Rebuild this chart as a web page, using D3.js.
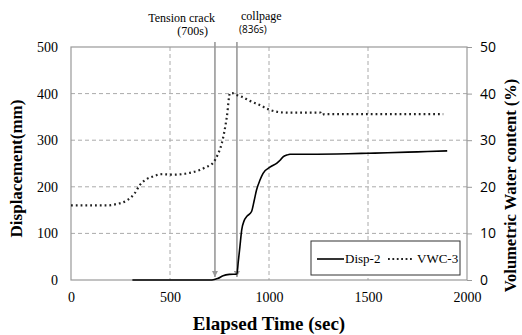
<!DOCTYPE html>
<html>
<head>
<meta charset="utf-8">
<script src="https://cdn.jsdelivr.net/npm/d3@7"></script>
<style>
  body { margin: 0; background: #fff; }
  svg { display: block; }
</style>
</head>
<body>
<div id="chart"></div>
<script>
// series (time in sec)
const dispTime = [310, 500, 712, 740, 768, 800, 838, 845, 853, 862, 875, 887, 912, 925, 937, 955, 970, 1005, 1040, 1056, 1071, 1090, 1106, 1200, 1400, 1500, 1600, 1750, 1900];
const dispVal  = [0, 0, 0, 3, 9, 12, 13, 40, 71, 107, 128, 136, 147, 170, 193, 215, 229, 242, 251, 257, 264, 268, 270, 270, 271, 272, 273, 275, 277];

const vwcTime = [0, 180, 230, 283, 320, 348, 384, 420, 450, 520, 600, 650, 680, 717, 740, 762, 787, 803, 815, 830, 864, 900, 955, 1005, 1056, 1100, 1260, 1268, 1280, 1400, 1600, 1880];
const vwcVal  = [16, 16, 16.3, 17.1, 18.5, 20.4, 21.7, 22.3, 22.7, 22.6, 23.0, 23.6, 24.2, 25.1, 26.8, 29.4, 35.0, 40.1, 40.1, 39.8, 39.3, 38.5, 37.5, 36.5, 36.0, 35.9, 35.9, 35.4, 35.6, 35.6, 35.6, 35.6];

const xTicks = [0, 500, 1000, 1500, 2000];
const yTicks = [0, 100, 200, 300, 400, 500];
const y2Ticks = [0, 10, 20, 30, 40, 50];

const events = [
  {t: 727, lines: ["Tension  crack", "(700s)"]},
  {t: 838, lines: ["collpage", "(836s)"]}
];

const width = 522, height = 335;
const margin = {top: 47, right: 55, bottom: 55, left: 71};
const w = 467 - margin.left, h = 280 - margin.top;

const svg = d3.select("#chart").append("svg")
  .attr("width", width).attr("height", height);

const x = d3.scaleLinear().domain([0, 2000]).range([margin.left, margin.left + w]);
const y = d3.scaleLinear().domain([0, 500]).range([margin.top + h, margin.top]);
const y2 = d3.scaleLinear().domain([0, 50]).range([margin.top + h, margin.top]);

const serif = "'Liberation Serif', 'Times New Roman', serif";
const sans = "'Open Sans', 'Noto Sans', sans-serif";

// gridlines
svg.append("g").selectAll("line").data(yTicks.slice(1, -1)).enter().append("line")
  .attr("x1", margin.left).attr("x2", margin.left + w)
  .attr("y1", d => y(d)).attr("y2", d => y(d))
  .attr("stroke", "#aaa").attr("stroke-dasharray", "4,3");
svg.append("g").selectAll("line").data(xTicks.slice(1, -1)).enter().append("line")
  .attr("y1", margin.top).attr("y2", margin.top + h)
  .attr("x1", d => x(d)).attr("x2", d => x(d))
  .attr("stroke", "#aaa").attr("stroke-dasharray", "4,3");

// frame
svg.append("rect")
  .attr("x", margin.left).attr("y", margin.top).attr("width", w).attr("height", h)
  .attr("fill", "none").attr("stroke", "#999").attr("stroke-width", 1.2);

// left axis
const yAxis = svg.append("g").attr("transform", `translate(${margin.left},0)`)
  .call(d3.axisLeft(y).tickValues(yTicks).tickSize(0).tickPadding(13));
yAxis.select(".domain").remove();
yAxis.selectAll("text").style("font-family", serif).style("font-size", "14px").attr("fill", "#000");

// right axis
const y2Axis = svg.append("g").attr("transform", `translate(${margin.left + w},0)`)
  .call(d3.axisRight(y2).tickValues(y2Ticks).tickSize(5).tickPadding(8));
y2Axis.select(".domain").remove();
y2Axis.selectAll("line").attr("stroke", "#999");
y2Axis.selectAll("text").style("font-family", sans).style("font-size", "14px").attr("fill", "#000");

// bottom axis
const xAxis = svg.append("g").attr("transform", `translate(0,${margin.top + h})`)
  .call(d3.axisBottom(x).tickValues(xTicks).tickFormat(d3.format("d")).tickSize(0).tickPadding(12));
xAxis.select(".domain").remove();
xAxis.selectAll("text").style("font-family", serif).style("font-size", "14px").attr("fill", "#000");

// axis titles
svg.append("text")
  .attr("transform", `translate(22,${margin.top + h / 2 + 5}) rotate(-90)`)
  .attr("text-anchor", "middle")
  .style("font-family", serif).style("font-weight", "bold").style("font-size", "17px")
  .text("Displacement(mm)");
svg.append("text")
  .attr("transform", `translate(516,${margin.top + h / 2 + 22}) rotate(-90)`)
  .attr("text-anchor", "middle")
  .style("font-family", serif).style("font-weight", "bold").style("font-size", "16.5px")
  .text("Volumetric Water content (%)");
svg.append("text")
  .attr("x", 269).attr("y", 330)
  .attr("text-anchor", "middle")
  .style("font-family", serif).style("font-weight", "bold").style("font-size", "19px")
  .text("Elapsed Time (sec)");

// event arrows
svg.append("defs").append("marker")
  .attr("id", "arr").attr("viewBox", "0 0 10 10")
  .attr("refX", 10).attr("refY", 5)
  .attr("markerWidth", 4).attr("markerHeight", 4).attr("orient", "auto")
  .append("path").attr("d", "M0,0L10,5L0,10Z").attr("fill", "#999");

events.forEach(e => {
  svg.append("line")
    .attr("x1", x(e.t)).attr("x2", x(e.t))
    .attr("y1", 42).attr("y2", y(0) - 3)
    .attr("stroke", "#999").attr("stroke-width", 1.6)
    .attr("marker-end", "url(#arr)");
});
svg.append("text").attr("x", 215).attr("y", 22).attr("text-anchor", "end")
  .style("font-family", serif).style("font-size", "12px").text(events[0].lines[0]);
svg.append("text").attr("x", 208).attr("y", 35).attr("text-anchor", "end")
  .style("font-family", serif).style("font-size", "12px").text(events[0].lines[1]);
svg.append("text").attr("x", 241).attr("y", 20)
  .style("font-family", serif).style("font-size", "12px").text(events[1].lines[0]);
svg.append("text").attr("x", 239).attr("y", 33)
  .style("font-family", sans).style("font-size", "10px").text(events[1].lines[1]);

// series lines
const vwcLine = d3.line().x((d, i) => x(vwcTime[i])).y(d => y2(d)).curve(d3.curveMonotoneX);
svg.append("path").datum(vwcVal)
  .attr("d", vwcLine).attr("fill", "none")
  .attr("stroke", "#222").attr("stroke-width", 2.2)
  .attr("stroke-dasharray", "1.8,3").attr("stroke-linecap", "butt");

const dispLine = d3.line().x((d, i) => x(dispTime[i])).y(d => y(d)).curve(d3.curveMonotoneX);
svg.append("path").datum(dispVal)
  .attr("d", dispLine).attr("fill", "none")
  .attr("stroke", "#000").attr("stroke-width", 1.6);

// legend
const lg = svg.append("g").attr("transform", "translate(311,241)");
lg.append("rect").attr("width", 149).attr("height", 34)
  .attr("fill", "#fff").attr("stroke", "#333").attr("stroke-width", 1);
lg.append("line").attr("x1", 6).attr("x2", 33).attr("y1", 18).attr("y2", 18)
  .attr("stroke", "#000").attr("stroke-width", 1.6);
lg.append("text").attr("x", 34).attr("y", 22)
  .style("font-family", serif).style("font-size", "13px").text("Disp-2");
lg.append("line").attr("x1", 77).attr("x2", 103).attr("y1", 18).attr("y2", 18)
  .attr("stroke", "#222").attr("stroke-width", 2).attr("stroke-dasharray", "1.8,2.6");
lg.append("text").attr("x", 106).attr("y", 22)
  .style("font-family", serif).style("font-size", "13px").text("VWC-3");
</script>
</body>
</html>
